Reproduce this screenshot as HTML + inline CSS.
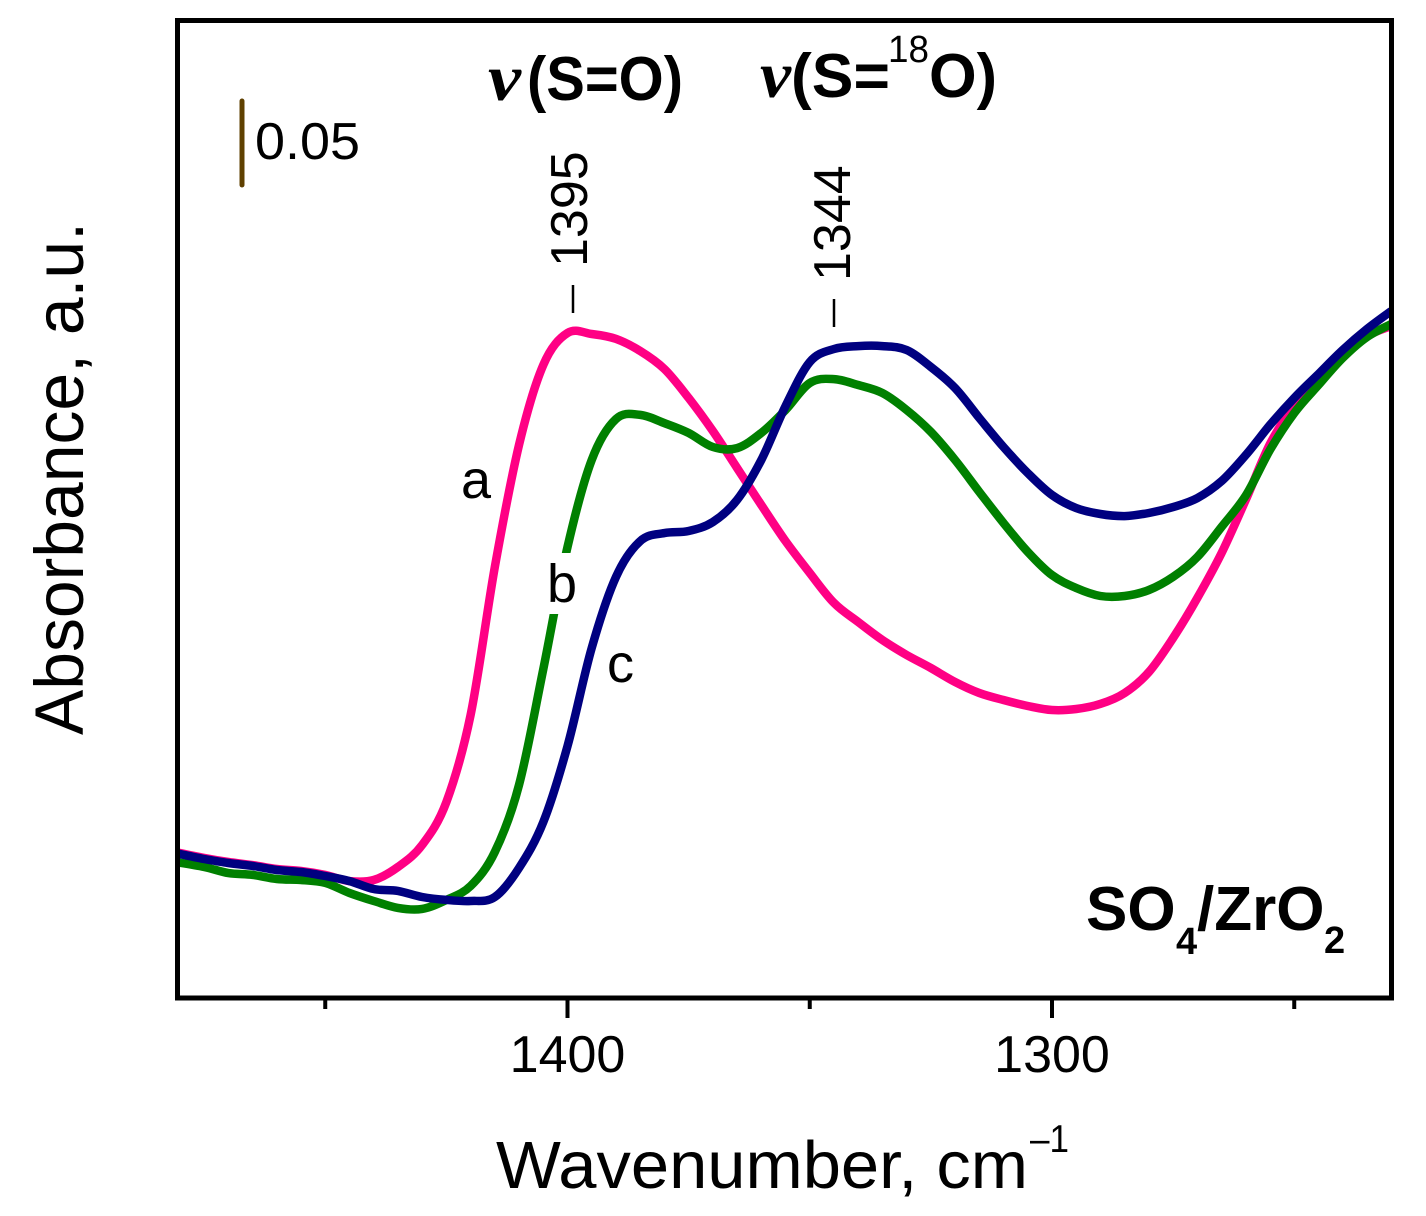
<!DOCTYPE html>
<html lang="en">
<head>
<meta charset="utf-8">
<title>SO4/ZrO2 absorbance spectrum</title>
<style>
  html, body { margin: 0; padding: 0; background: #fff; }
  svg { display: block; }
  text { font-family: "Liberation Sans", sans-serif; fill: #000; }
</style>
</head>
<body>
<svg id="chart" xmlns="http://www.w3.org/2000/svg" width="1426" height="1216" viewBox="0 0 1426 1216">
  <rect width="1426" height="1216" fill="#fff"/>
  <defs>
    <clipPath id="plot-clip"><rect x="177" y="20" width="1215" height="978"/></clipPath>
  </defs>
  <g id="series" clip-path="url(#plot-clip)"></g>

  <rect x="545" y="553" width="36" height="61" fill="#fff"/>
  <text x="461" y="498" font-size="54">a</text>
  <text x="547" y="602" font-size="54">b</text>
  <text x="607" y="682" font-size="54">c</text>

  <rect x="177.5" y="20.5" width="1214" height="977.5" fill="none" stroke="#000" stroke-width="5"/>
  <g id="ticks"></g>

  <text transform="translate(83 735) rotate(-90)" font-size="69" textLength="513" lengthAdjust="spacingAndGlyphs">Absorbance, a.u.</text>
  <text x="496" y="1188" font-size="67" textLength="532" lengthAdjust="spacingAndGlyphs">Wavenumber, cm</text>
  <text x="1030" y="1152" font-size="39" textLength="39" lengthAdjust="spacingAndGlyphs">–1</text>

  <line x1="242" y1="101" x2="242" y2="185" stroke="#5f4000" stroke-width="5" stroke-linecap="round"/>
  <text x="255" y="159" font-size="52" textLength="105" lengthAdjust="spacingAndGlyphs">0.05</text>

  <text x="488" y="100" font-size="66" font-weight="bold" font-style="italic" textLength="33" lengthAdjust="spacingAndGlyphs" style="font-family:'Liberation Serif',serif">ν</text>
  <text x="527" y="100" font-size="62" font-weight="bold" textLength="156" lengthAdjust="spacingAndGlyphs">(S=O)</text>
  <text x="760" y="97" font-size="66" font-weight="bold" font-style="italic" textLength="31" lengthAdjust="spacingAndGlyphs" style="font-family:'Liberation Serif',serif">ν</text>
  <text x="791" y="97" font-size="62" font-weight="bold" textLength="99" lengthAdjust="spacingAndGlyphs">(S=</text>
  <text x="888" y="62" font-size="38" textLength="41" lengthAdjust="spacingAndGlyphs">18</text>
  <text x="929" y="97" font-size="62" font-weight="bold" textLength="68" lengthAdjust="spacingAndGlyphs">O)</text>

  <line x1="573" y1="285" x2="573" y2="313" stroke="#000" stroke-width="2.5"/>
  <text transform="translate(587 267) rotate(-90)" font-size="52">1395</text>
  <line x1="834" y1="299" x2="834" y2="327" stroke="#000" stroke-width="2.5"/>
  <text transform="translate(850 281) rotate(-90)" font-size="52">1344</text>

  <text x="1086" y="930" font-size="62" font-weight="bold">SO</text>
  <text x="1176" y="954" font-size="38" font-weight="bold">4</text>
  <text x="1197" y="930" font-size="62" font-weight="bold">/ZrO</text>
  <text x="1324" y="953" font-size="38" font-weight="bold">2</text>
</svg>
<script>
const wavenumbers = [1481,1475,1470,1465,1460,1455,1450,1445,1440,1435,1430,1425,1420,1415,1410,1405,1400,1395,1390,1385,1380,1375,1370,1365,1360,1355,1350,1345,1340,1335,1330,1325,1320,1315,1310,1305,1300,1295,1290,1285,1280,1275,1270,1265,1260,1255,1250,1245,1240,1235,1230];
const absorbanceA = [.0853,.0818,.0794,.0776,.0753,.0741,.0718,.0682,.0688,.0765,.0894,.1147,.1659,.2529,.3247,.3718,.3906,.3900,.3871,.3800,.3694,.3524,.3329,.3112,.2894,.2682,.2494,.2318,.2206,.2100,.2012,.1935,.1853,.1788,.1747,.1712,.1688,.1694,.1724,.1788,.1912,.2112,.2347,.2612,.2925,.3253,.3476,.3624,.3782,.3888,.3947];
const absorbanceB = [.0794,.0765,.0729,.0718,.0694,.0688,.0671,.0612,.0565,.0524,.0518,.0571,.0653,.0853,.1247,.1929,.2647,.3159,.3400,.3424,.3376,.3318,.3235,.3229,.3318,.3453,.3612,.3635,.3600,.3553,.3453,.3324,.3159,.2971,.2788,.2618,.2482,.2406,.2359,.2359,.2394,.2471,.2588,.2765,.2950,.3218,.3435,.3600,.3759,.3882,.3959];
const absorbanceC = [.0847,.0812,.0788,.0771,.0747,.0735,.0712,.0682,.0635,.0624,.0588,.0571,.0565,.0588,.0759,.1029,.1476,.2053,.2471,.2682,.2729,.2741,.2794,.2924,.3159,.3476,.3735,.3812,.3829,.3829,.3806,.3706,.3582,.3406,.3235,.3082,.2953,.2876,.2841,.2829,.2847,.2882,.2935,.3035,.3188,.3365,.3524,.3665,.3806,.3929,.4035];
const majorTicks = [1400, 1300];
const minorTicks = [1450, 1350, 1250];

const SVG_NS = 'http://www.w3.org/2000/svg';
function xScale(w) { return 567.5 + (1400 - w) * 4.845; }
function yScale(v) { return 997 - v * 1700; }

function curvePath(xs, ys) {
  const pts = xs.map(function (w, i) { return [xScale(w), yScale(ys[i])]; });
  let d = 'M' + pts[0][0].toFixed(1) + ' ' + pts[0][1].toFixed(1);
  for (let i = 0; i < pts.length - 1; i++) {
    const p0 = pts[Math.max(i - 1, 0)];
    const p1 = pts[i];
    const p2 = pts[i + 1];
    const p3 = pts[Math.min(i + 2, pts.length - 1)];
    const c1x = p1[0] + (p2[0] - p0[0]) / 6;
    const c1y = p1[1] + (p2[1] - p0[1]) / 6;
    const c2x = p2[0] - (p3[0] - p1[0]) / 6;
    const c2y = p2[1] - (p3[1] - p1[1]) / 6;
    d += 'C' + c1x.toFixed(1) + ' ' + c1y.toFixed(1) + ' ' + c2x.toFixed(1) + ' ' + c2y.toFixed(1) + ' ' + p2[0].toFixed(1) + ' ' + p2[1].toFixed(1);
  }
  return d;
}

const seriesGroup = document.getElementById('series');

const lineA = document.createElementNS(SVG_NS, 'path');


lineA.setAttribute('d', curvePath(wavenumbers, absorbanceA));
lineA.setAttribute('fill', 'none');
lineA.setAttribute('stroke', '#ff0084');
lineA.setAttribute('stroke-width', '8.5');
seriesGroup.appendChild(lineA);

const lineB = document.createElementNS(SVG_NS, 'path');


lineB.setAttribute('d', curvePath(wavenumbers, absorbanceB));
lineB.setAttribute('fill', 'none');
lineB.setAttribute('stroke', '#008000');
lineB.setAttribute('stroke-width', '8.5');
seriesGroup.appendChild(lineB);

const lineC = document.createElementNS(SVG_NS, 'path');


lineC.setAttribute('d', curvePath(wavenumbers, absorbanceC));
lineC.setAttribute('fill', 'none');
lineC.setAttribute('stroke', '#000080');
lineC.setAttribute('stroke-width', '8.5');
seriesGroup.appendChild(lineC);

const tickGroup = document.getElementById('ticks');

majorTicks.forEach(function (w) {
  const tick = document.createElementNS(SVG_NS, 'line');
  
  
  tick.setAttribute('x1', xScale(w));
  tick.setAttribute('x2', xScale(w));
  tick.setAttribute('y1', 998);
  tick.setAttribute('y2', 1018);
  tick.setAttribute('stroke', '#000');
  tick.setAttribute('stroke-width', '4');
  tickGroup.appendChild(tick);

  const label = document.createElementNS(SVG_NS, 'text');
  
  
  label.setAttribute('x', xScale(w));
  label.setAttribute('y', 1072);
  label.setAttribute('font-size', '52');
  label.setAttribute('text-anchor', 'middle');
  label.textContent = String(w);
  tickGroup.appendChild(label);
});

minorTicks.forEach(function (w) {
  const tick = document.createElementNS(SVG_NS, 'line');
  
  
  tick.setAttribute('x1', xScale(w));
  tick.setAttribute('x2', xScale(w));
  tick.setAttribute('y1', 998);
  tick.setAttribute('y2', 1009);
  tick.setAttribute('stroke', '#000');
  tick.setAttribute('stroke-width', '4');
  tickGroup.appendChild(tick);
});
</script>
</body>
</html>
